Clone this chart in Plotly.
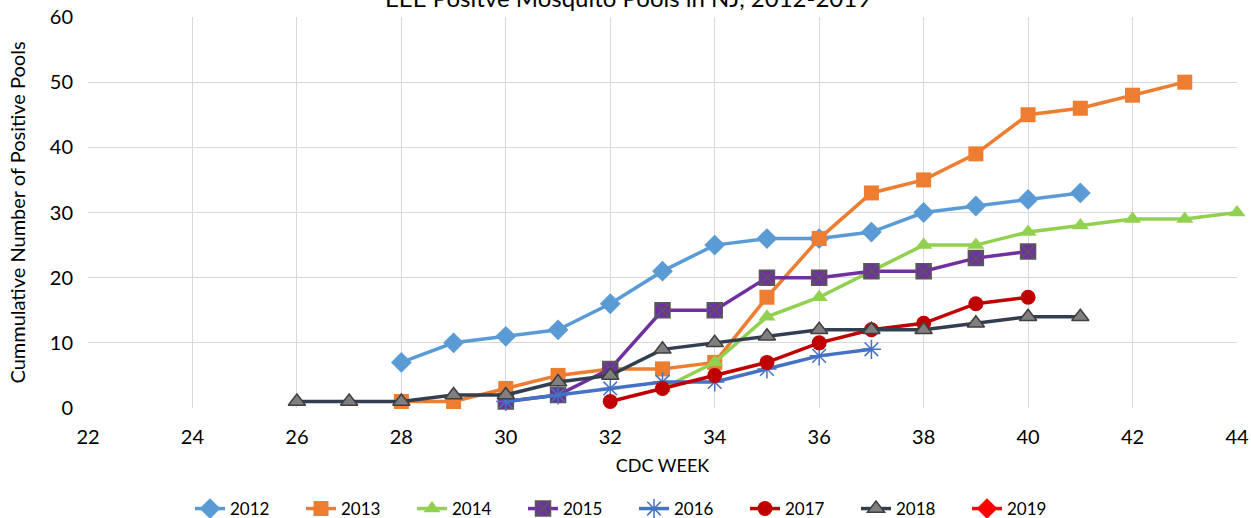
import plotly.graph_objects as go

weeks_2012 = [28, 29, 30, 31, 32, 33, 34, 35, 36, 37, 38, 39, 40, 41]
vals_2012 = [7, 10, 11, 12, 16, 21, 25, 26, 26, 27, 30, 31, 32, 33]

weeks_2013 = [28, 29, 30, 31, 32, 33, 34, 35, 36, 37, 38, 39, 40, 41, 42, 43]
vals_2013 = [1, 1, 3, 5, 6, 6, 7, 17, 26, 33, 35, 39, 45, 46, 48, 50]

weeks_2014 = [33, 34, 35, 36, 37, 38, 39, 40, 41, 42, 43, 44]
vals_2014 = [3, 7, 14, 17, 21, 25, 25, 27, 28, 29, 29, 30]

weeks_2015 = [30, 31, 32, 33, 34, 35, 36, 37, 38, 39, 40]
vals_2015 = [1, 2, 6, 15, 15, 20, 20, 21, 21, 23, 24]

weeks_2016 = [30, 31, 32, 33, 34, 35, 36, 37]
vals_2016 = [1, 2, 3, 4, 4, 6, 8, 9]

weeks_2017 = [32, 33, 34, 35, 36, 37, 38, 39, 40]
vals_2017 = [1, 3, 5, 7, 10, 12, 13, 16, 17]

weeks_2018 = [26, 27, 28, 29, 30, 31, 32, 33, 34, 35, 36, 37, 38, 39, 40, 41]
vals_2018 = [1, 1, 1, 2, 2, 4, 5, 9, 10, 11, 12, 12, 12, 13, 14, 14]

# 2019 has no points plotted (legend entry only)
weeks_2019 = [None]
vals_2019 = [None]

x_ticks = list(range(22, 45, 2))
y_ticks = list(range(0, 61, 10))

FONT = "Lato"

series = [
    ("2012", weeks_2012, vals_2012, "#5B9BD5", dict(symbol="diamond", size=16, color="#5B9BD5")),
    ("2013", weeks_2013, vals_2013, "#ED7D31", dict(symbol="square", size=15, color="#ED7D31")),
    ("2014", weeks_2014, vals_2014, "#92D050", dict(symbol="triangle-up", size=15, color="#92D050")),
    ("2015", weeks_2015, vals_2015, "#7030A0", dict(symbol="square-x", size=15, color="#7030A0",
                                                   line=dict(color="#595959", width=1.5))),
    ("2016", weeks_2016, vals_2016, "#4472C4", dict(symbol="asterisk-open", size=16, color="#4472C4",
                                                   line=dict(color="#4472C4", width=1.5))),
    ("2017", weeks_2017, vals_2017, "#C00000", dict(symbol="circle", size=15, color="#C00000")),
    ("2018", weeks_2018, vals_2018, "#333F50", dict(symbol="triangle-up", size=15, color="#7F7F7F",
                                                   line=dict(color="#404040", width=1.5))),
    ("2019", weeks_2019, vals_2019, "#FF0000", dict(symbol="diamond", size=16, color="#FF0000")),
]

fig = go.Figure()
for name, xs, ys, lc, mk in series:
    fig.add_trace(go.Scatter(
        x=xs, y=ys, name=name, mode="lines+markers",
        line=dict(color=lc, width=3.5), marker=mk, cliponaxis=False,
    ))

fig.add_annotation(
    text="EEE Positve Mosquito Pools in NJ, 2012-2019",
    xref="paper", x=(628 - 88) / 1149, xanchor="center",
    yref="paper", y=1.0077, yanchor="bottom",
    showarrow=False, font=dict(family=FONT, size=24, color="#000000"),
)

fig.update_layout(
    width=1251, height=518,
    margin=dict(l=88, r=14, t=17, b=110, autoexpand=False),
    paper_bgcolor="white", plot_bgcolor="white",
    font=dict(family=FONT, size=20, color="#000000"),
    showlegend=True,
    legend=dict(orientation="h", x=(634 - 88) / 1149, xanchor="center",
                y=(408 - 509) / 391, yanchor="middle",
                font=dict(family=FONT, size=17), entrywidth=66,
                traceorder="normal"),
    xaxis=dict(range=[22, 44], tickvals=x_ticks, showgrid=True, gridcolor="#D9D9D9",
               gridwidth=1.3, zeroline=False, showline=False, ticks="",
               automargin=False, ticklabelstandoff=15,
               title=dict(text="CDC WEEK", font=dict(family=FONT, size=18), standoff=12),
               tickfont=dict(family=FONT, size=20)),
    yaxis=dict(range=[0, 60], tickvals=y_ticks, showgrid=True, gridcolor="#D9D9D9",
               gridwidth=1.3, zeroline=False, showline=False, ticks="",
               automargin=False, ticklabelstandoff=14,
               title=dict(text="Cummulative Number of Positive Pools",
                          font=dict(family=FONT, size=20), standoff=18),
               tickfont=dict(family=FONT, size=20)),
)

fig.write_html("out.html", config={"displayModeBar": False},
               post_script="document.body.style.margin='0';")
